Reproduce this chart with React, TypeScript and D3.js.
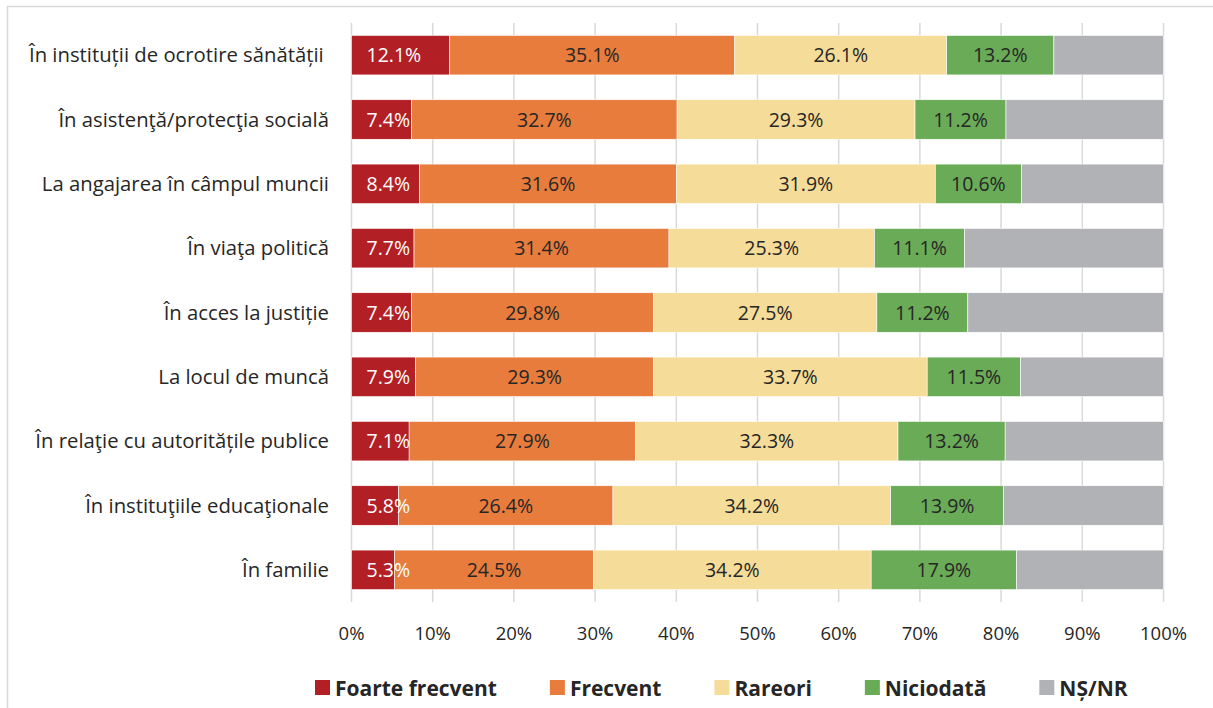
import React, { useRef, useEffect } from 'react';
import * as d3 from 'd3';

const categories = [
  'În instituții de ocrotire sănătății ',
  'În asistenţă/protecţia socială',
  'La angajarea în câmpul muncii',
  'În viaţa politică',
  'În acces la justiție',
  'La locul de muncă',
  'În relaţie cu autoritățile publice',
  'În instituţiile educaţionale',
  'În familie'
];

const seriesNames = ['Foarte frecvent', 'Frecvent', 'Rareori', 'Niciodată', 'NȘ/NR'];

const foarteFrecvent = [12.1, 7.4, 8.4, 7.7, 7.4, 7.9, 7.1, 5.8, 5.3];
const frecvent = [35.1, 32.7, 31.6, 31.4, 29.8, 29.3, 27.9, 26.4, 24.5];
const rareori = [26.1, 29.3, 31.9, 25.3, 27.5, 33.7, 32.3, 34.2, 34.2];
const niciodata = [13.2, 11.2, 10.6, 11.1, 11.2, 11.5, 13.2, 13.9, 17.9];
const nsnr = [13.5, 19.4, 17.5, 24.5, 24.1, 17.6, 19.5, 19.7, 18.1];

const xTicks = [0, 10, 20, 30, 40, 50, 60, 70, 80, 90, 100];

const colors = ['#B21F24', '#E77C3D', '#F5DC98', '#6AAB58', '#B1B2B5'];

export default function App() {
  const ref = useRef<SVGSVGElement>(null);

  useEffect(() => {
    const width = 1213;
    const height = 708;
    const svg = d3.select(ref.current);
    svg.selectAll('*').remove();

    const font = '"Open Sans", Lato, sans-serif';
    const textColor = '#262626';

    // chart frame
    svg.append('rect')
      .attr('x', 7.5).attr('y', 6.5)
      .attr('width', width).attr('height', height)
      .attr('fill', 'white')
      .attr('stroke', '#d9d9d9')
      .attr('stroke-width', 1.5);

    const x = d3.scaleLinear().domain([0, 100]).range([351.5, 1163.5]);
    const y = d3.scaleBand<string>()
      .domain(categories)
      .range([23, 602])
      .paddingInner(0.386)
      .paddingOuter(0.193);

    // gridlines
    svg.append('g')
      .selectAll('line')
      .data(xTicks)
      .join('line')
      .attr('x1', d => x(d)).attr('x2', d => x(d))
      .attr('y1', 23).attr('y2', 602)
      .attr('stroke', '#d9d9d9')
      .attr('stroke-width', 1.5);

    // stacked data
    const all = [foarteFrecvent, frecvent, rareori, niciodata, nsnr];
    const rows = categories.map((c, i) => {
      const r: any = { cat: c };
      seriesNames.forEach((s, j) => { r[s] = all[j][i]; });
      return r;
    });
    const stacked = d3.stack<any>().keys(seriesNames)(rows);

    const layers = svg.append('g')
      .selectAll('g')
      .data(stacked)
      .join('g')
      .attr('fill', (_d, i) => colors[i]);

    layers.selectAll('rect')
      .data(d => d)
      .join('rect')
      .attr('x', d => x(d[0]))
      .attr('y', d => y(d.data.cat)!)
      .attr('width', d => x(d[1]) - x(d[0]))
      .attr('height', y.bandwidth())
      .attr('stroke', 'white')
      .attr('stroke-width', 0.6);

    // value labels (no labels for NȘ/NR)
    stacked.slice(0, 4).forEach((layer, si) => {
      svg.append('g')
        .selectAll('text')
        .data(layer)
        .join('text')
        .attr('x', d => si === 0 ? x(0) + 15 : (x(d[0]) + x(d[1])) / 2)
        .attr('y', d => y(d.data.cat)! + y.bandwidth() / 2)
        .attr('dy', '0.36em')
        .attr('text-anchor', si === 0 ? 'start' : 'middle')
        .attr('font-family', font)
        .attr('font-size', 19.5)
        .attr('fill', si === 0 ? 'white' : textColor)
        .text(d => `${(d[1] - d[0]).toFixed(1)}%`);
    });

    // category labels
    svg.append('g')
      .selectAll('text')
      .data(categories)
      .join('text')
      .attr('x', 329)
      .attr('y', d => y(d)! + y.bandwidth() / 2)
      .attr('dy', '0.36em')
      .attr('text-anchor', 'end')
      .attr('font-family', font)
      .attr('font-size', 20.3)
      .attr('fill', textColor)
      .style('white-space', 'pre')
      .text(d => d);

    // x tick labels
    svg.append('g')
      .selectAll('text')
      .data(xTicks)
      .join('text')
      .attr('x', d => x(d))
      .attr('y', 633)
      .attr('dy', '0.36em')
      .attr('text-anchor', 'middle')
      .attr('font-family', font)
      .attr('font-size', 18.5)
      .attr('fill', textColor)
      .text(d => `${d}%`);

    // legend
    const legend = svg.append('g');
    let lx = 315;
    seriesNames.forEach((s, i) => {
      legend.append('rect')
        .attr('x', lx).attr('y', 680)
        .attr('width', 15).attr('height', 15)
        .attr('fill', colors[i]);
      const t = legend.append('text')
        .attr('x', lx + 20)
        .attr('y', 688)
        .attr('dy', '0.36em')
        .attr('font-family', font)
        .attr('font-size', 21)
        .attr('font-weight', 'bold')
        .attr('fill', textColor)
        .text(s);
      const tw = (t.node() as SVGTextElement).getComputedTextLength();
      lx += 20 + tw + 53;
    });
  }, []);

  return (
    <svg
      ref={ref}
      width={1213}
      height={708}
      style={{ position: 'absolute', left: 0, top: 0, display: 'block' }}
    />
  );
}
